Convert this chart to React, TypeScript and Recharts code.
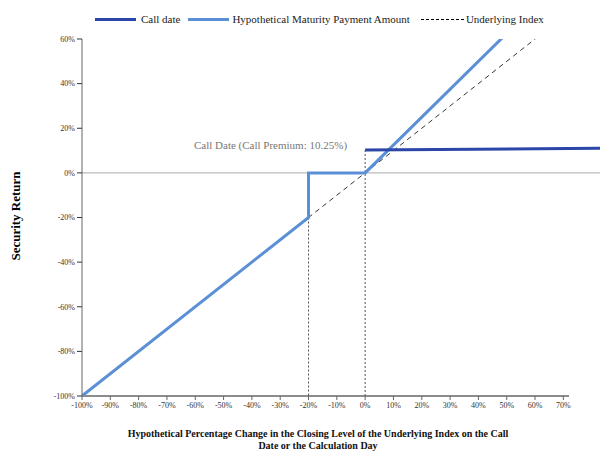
import React from 'react';
import { LineChart, Line, XAxis, YAxis, ReferenceLine } from 'recharts';

const xTicks = [-100, -90, -80, -70, -60, -50, -40, -30, -20, -10, 0, 10, 20, 30, 40, 50, 60, 70];
const yTicks = [-100, -80, -60, -40, -20, 0, 20, 40, 60];
const maturityX = [-100, -20, -20, 0, 48.8];
const maturityY = [-100, -20, 0, 0, 61];
const indexX = [-100, 60.5];
const indexY = [-100, 60.5];
const callX = [0, 84];
const callY = [10.25, 11];

const maturity = maturityX.map((x, i) => ({ x, y: maturityY[i] }));
const indexLine = indexX.map((x, i) => ({ x, y: indexY[i] }));
const callLine = callX.map((x, i) => ({ x, y: callY[i] }));

const font = 'Liberation Serif, DejaVu Serif, serif';

export default function App() {
  return (
    <div style={{ position: 'relative', width: 600, height: 450, fontFamily: font }}>
      <div style={{ position: 'absolute', top: 5, left: 87, display: 'flex', alignItems: 'center', fontSize: 11, color: '#222', zIndex: 2 }}>
        <span style={{ display: 'inline-block', width: 41, height: 3, background: '#2a47a8', marginRight: 5 }} />
        <span style={{ marginRight: 8 }}>Call date</span>
        <span style={{ display: 'inline-block', width: 41, height: 3, background: '#5b8fd6', marginRight: 3 }} />
        <span style={{ marginRight: 11 }}>Hypothetical Maturity Payment Amount</span>
        <span style={{ display: 'inline-block', width: 43, borderTop: '1px dashed #000', marginRight: 2 }} />
        <span>Underlying Index</span>
      </div>
      <div style={{ position: 'absolute', left: -52, top: 200, width: 120, transform: 'rotate(-90deg)', textAlign: 'center', fontWeight: 'bold', fontSize: 13 }}>Security Return</div>
      <div style={{ position: 'absolute', left: 80, top: 420, width: 460, textAlign: 'center', fontWeight: 'bold', fontSize: 10, lineHeight: '12px', color: '#111' }}>
        Hypothetical Percentage Change in the Closing Level of the Underlying Index on the Call<br />Date or the Calculation Day
      </div>
      <div style={{ position: 'absolute', left: 186, top: 131, fontSize: 11, color: '#777' }}>Call Date (Call Premium: 10.25%)</div>
      <LineChart width={600} height={450} margin={{ top: 31, right: 5, left: 14, bottom: 32 }}>
        <XAxis type="number" dataKey="x" domain={[-100, 84]} ticks={xTicks} allowDataOverflow axisLine={false}
          tickFormatter={(v: number) => `${v}%`} tick={{ fontSize: 8, fill: '#333', fontFamily: font }} tickSize={4} tickLine={{ stroke: '#666' }} height={30} interval={0} />
        <YAxis type="number" dataKey="y" domain={[-100, 60]} ticks={yTicks} allowDataOverflow axisLine={{ stroke: '#666' }}
          tickFormatter={(v: number) => `${v}%`} tick={{ fontSize: 8, fill: '#333', fontFamily: font }} tickSize={5} tickLine={{ stroke: '#333' }} width={60} />
        <ReferenceLine y={0} stroke="#aaa" strokeWidth={1} />
        <ReferenceLine segment={[{ x: -100, y: -100 }, { x: 72, y: -100 }]} stroke="#666" strokeWidth={1.5} />
        <ReferenceLine segment={[{ x: -20, y: -20 }, { x: -20, y: -100 }]} stroke="#555" strokeDasharray="2 2" />
        <ReferenceLine segment={[{ x: 0, y: 10.25 }, { x: 0, y: -100 }]} stroke="#555" strokeDasharray="2 2" />
        <Line data={indexLine} dataKey="y" stroke="#000" strokeWidth={0.8} strokeDasharray="5 4" dot={false} isAnimationActive={false} />
        <Line data={maturity} dataKey="y" stroke="#5b8fd6" strokeWidth={3} dot={false} isAnimationActive={false} />
        <Line data={callLine} dataKey="y" stroke="#2a47a8" strokeWidth={3} dot={false} isAnimationActive={false} />
      </LineChart>
    </div>
  );
}
